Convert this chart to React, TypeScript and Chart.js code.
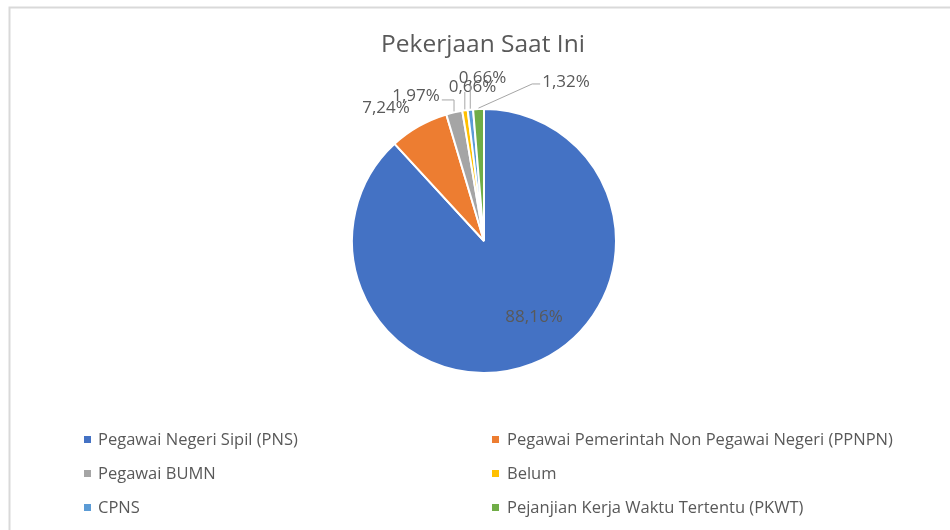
import React, { useEffect, useRef } from "react";
import { Chart, registerables } from "chart.js";

Chart.register(...registerables);

const TITLE = "Pekerjaan Saat Ini";
const categories = [
  "Pegawai Negeri Sipil (PNS)",
  "Pegawai Pemerintah Non Pegawai Negeri (PPNPN)",
  "Pegawai BUMN",
  "Belum",
  "CPNS",
  "Pejanjian Kerja Waktu Tertentu (PKWT)",
];
const counts = [134, 11, 3, 1, 1, 2];
const percentLabels = ["88,16%", "7,24%", "1,97%", "0,66%", "0,66%", "1,32%"];
const colors = ["#4472C4", "#ED7D31", "#A5A5A5", "#FFC000", "#5B9BD5", "#70AD47"];

// label placement (style): offsets in units of the pie radius from the pie centre (text centre x, baseline y)
const labelOffsets: [number, number][] = [
  [0.379, 0.614],
  [-0.742, -0.97],
  [-0.515, -1.061],
  [-0.087, -1.129],
  [-0.011, -1.197],
  [0.621, -1.167],
];
const leaderKinds = ["none", "none", "elbowLeft", "vertical", "vertical", "elbowRight"];

const FONT = "'Open Sans', 'DejaVu Sans', sans-serif";
const TEXT_COLOR = "#595959";

const decorPlugin = {
  id: "decor",
  beforeDraw(chart: any) {
    const ctx = chart.ctx;
    ctx.save();
    ctx.fillStyle = "#ffffff";
    ctx.fillRect(0, 0, chart.width, chart.height);
    ctx.strokeStyle = "#d9d9d9";
    ctx.lineWidth = 2;
    ctx.beginPath();
    ctx.moveTo(chart.width, 7.5);
    ctx.lineTo(9.5, 7.5);
    ctx.lineTo(9.5, chart.height);
    ctx.stroke();
    ctx.restore();
  },
  afterDatasetsDraw(chart: any) {
    const ctx = chart.ctx;
    ctx.save();
    // title
    ctx.fillStyle = TEXT_COLOR;
    ctx.font = `24.5px ${FONT}`;
    ctx.textAlign = "center";
    ctx.textBaseline = "alphabetic";
    ctx.fillText(TITLE, 483, 52);

    // data labels + leader lines
    const meta = chart.getDatasetMeta(0);
    ctx.font = `17px ${FONT}`;
    meta.data.forEach((arc: any, i: number) => {
      const p = arc.getProps(["x", "y", "outerRadius", "startAngle", "endAngle"], true);
      const r = p.outerRadius;
      const lx = p.x + labelOffsets[i][0] * r;
      const ly = p.y + labelOffsets[i][1] * r;
      const text = percentLabels[i];
      const w = ctx.measureText(text).width;
      const mid = (p.startAngle + p.endAngle) / 2;
      const ax = p.x + Math.cos(mid) * (r + 1);
      const ay = p.y + Math.sin(mid) * (r + 1);
      ctx.strokeStyle = "#a6a6a6";
      ctx.lineWidth = 1;
      const kind = leaderKinds[i];
      if (kind === "elbowLeft") {
        ctx.beginPath();
        ctx.moveTo(ax, ay);
        ctx.lineTo(ax, ly - 1);
        ctx.lineTo(lx + w / 2 + 2, ly - 1);
        ctx.stroke();
      } else if (kind === "vertical") {
        ctx.beginPath();
        ctx.moveTo(ax, ay);
        ctx.lineTo(ax, ly);
        ctx.stroke();
      } else if (kind === "elbowRight") {
        ctx.beginPath();
        ctx.moveTo(ax, ay);
        ctx.lineTo(lx - w / 2 - 10, ly - 3);
        ctx.lineTo(lx - w / 2 - 2, ly - 3);
        ctx.stroke();
      }
      ctx.fillStyle = TEXT_COLOR;
      ctx.textAlign = "center";
      ctx.textBaseline = "alphabetic";
      ctx.fillText(text, lx, ly);
    });

    // legend (two columns)
    ctx.font = `16.5px ${FONT}`;
    ctx.textAlign = "left";
    const colMarkerX = [84, 492];
    const colTextX = [98, 507];
    const rowBase = [445, 479, 513];
    categories.forEach((name, i) => {
      const col = i % 2;
      const row = Math.floor(i / 2);
      ctx.fillStyle = colors[i];
      ctx.fillRect(colMarkerX[col], rowBase[row] - 9, 7, 7);
      ctx.fillStyle = TEXT_COLOR;
      ctx.fillText(name, colTextX[col], rowBase[row]);
    });
    ctx.restore();
  },
};

export default function App() {
  const ref = useRef<HTMLCanvasElement | null>(null);
  useEffect(() => {
    if (!ref.current) return;
    const chart = new Chart(ref.current, {
      type: "pie",
      data: {
        labels: categories,
        datasets: [
          {
            data: counts,
            backgroundColor: colors,
            borderColor: "#ffffff",
            borderWidth: 2,
          },
        ],
      },
      options: {
        responsive: false,
        animation: false,
        devicePixelRatio: 1,
        layout: { padding: { left: 351, right: 333, top: 108, bottom: 156 } },
        plugins: {
          legend: { display: false },
          title: { display: false },
          tooltip: { enabled: false },
        },
      },
      plugins: [decorPlugin],
    });
    return () => chart.destroy();
  }, []);
  return (
    <div style={{ position: "absolute", left: 0, top: 0, width: 950, height: 530, background: "#fff" }}>
      <canvas ref={ref} width={950} height={530} style={{ width: 950, height: 530, display: "block" }} />
    </div>
  );
}
